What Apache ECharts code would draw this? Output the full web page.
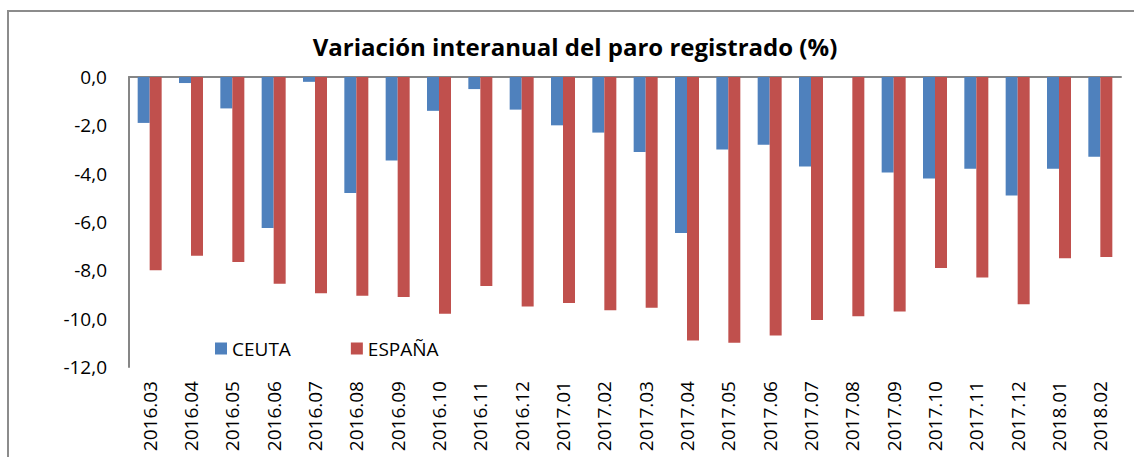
<!DOCTYPE html>
<html>
<head>
<meta charset="utf-8">
<script src="https://cdn.jsdelivr.net/npm/echarts@6/dist/echarts.min.js"></script>
<style>
    html, body { margin: 0; padding: 0; background: #fff; }
    #main { width: 1134px; height: 457px; }
</style>
</head>
<body>
<div id="main"></div>
<script>
    // datos
    var months = ['2016.03', '2016.04', '2016.05', '2016.06', '2016.07', '2016.08',
        '2016.09', '2016.10', '2016.11', '2016.12', '2017.01', '2017.02',
        '2017.03', '2017.04', '2017.05', '2017.06', '2017.07', '2017.08',
        '2017.09', '2017.10', '2017.11', '2017.12', '2018.01', '2018.02'];
    var ceuta = [-1.9, -0.25, -1.3, -6.25, -0.2, -4.8, -3.45, -1.4, -0.5, -1.35, -2.0, -2.3,
        -3.1, -6.45, -3.0, -2.8, -3.7, 0, -3.95, -4.2, -3.8, -4.9, -3.8, -3.3];
    var espana = [-8.0, -7.4, -7.65, -8.55, -8.95, -9.05, -9.1, -9.8, -8.65, -9.5, -9.35, -9.65,
        -9.55, -10.9, -11.0, -10.7, -10.05, -9.9, -9.7, -7.9, -8.3, -9.4, -7.5, -7.45];
    var yTicks = [-12, -10, -8, -6, -4, -2, 0];

    var font = "'Open Sans', sans-serif";
    var myChart = echarts.init(document.getElementById('main'), null, {renderer: 'svg'});
    var option = {
        backgroundColor: '#fff',
        animation: false,
        color: ['#4F81BD', '#C0504D'],
        title: {
            text: 'Variación interanual del paro registrado (%)',
            left: 575,
            textAlign: 'center',
            top: 34,
            padding: 0,
            textStyle: {fontFamily: font, fontSize: 24, fontWeight: 'bold', color: '#000'}
        },
        graphic: [
            {
                // marco del gráfico (sale por la derecha y por abajo)
                type: 'rect',
                shape: {x: 8, y: 11, width: 1200, height: 520},
                style: {fill: 'none', stroke: '#8c8c8c', lineWidth: 2},
                silent: true
            }
        ],
        legend: {
            left: 215,
            top: 339,
            padding: 0,
            itemWidth: 12,
            itemHeight: 12,
            itemGap: 60,
            icon: 'rect',
            textStyle: {fontFamily: font, fontSize: 19, color: '#000'},
            data: ['CEUTA', 'ESPAÑA']
        },
        grid: {left: 129, right: 13, top: 77, bottom: 90},
        xAxis: [
            {
                type: 'category',
                data: months,
                position: 'bottom',
                axisLine: {show: false, onZero: false},
                axisTick: {show: false},
                axisLabel: {
                    rotate: 90,
                    margin: 14,
                    fontFamily: font,
                    fontSize: 19,
                    color: '#000'
                }
            },
            {
                // línea del cero
                type: 'category',
                data: months,
                position: 'top',
                axisLine: {show: true, onZero: false, lineStyle: {color: '#868686', width: 2}},
                axisTick: {show: false},
                axisLabel: {show: false}
            }
        ],
        yAxis: {
            type: 'value',
            min: yTicks[0],
            max: yTicks[yTicks.length - 1],
            interval: 2,
            axisLine: {show: true, lineStyle: {color: '#868686', width: 2}},
            axisTick: {show: false},
            splitLine: {show: false},
            axisLabel: {
                margin: 22,
                fontFamily: font,
                fontSize: 19,
                color: '#000',
                formatter: function (v) {
                    return v.toFixed(1).replace('.', ',');
                }
            }
        },
        series: [
            {
                name: 'CEUTA',
                type: 'bar',
                barWidth: 12,
                barGap: '0%',
                data: ceuta
            },
            {
                name: 'ESPAÑA',
                type: 'bar',
                barWidth: 12,
                barGap: '0%',
                data: espana
            }
        ]
    };
    myChart.setOption(option);
</script>
</body>
</html>
